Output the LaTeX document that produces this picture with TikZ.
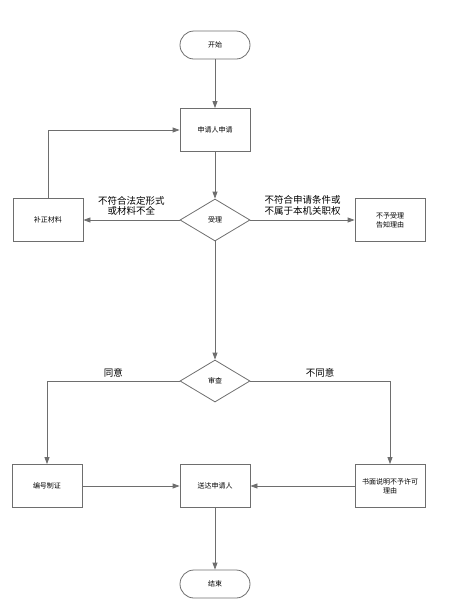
\documentclass[tikz,border=0pt]{standalone}
\usepackage{fontspec}
\newfontfamily\cjk{Noto Sans CJK SC}
\usepackage{tikz}
\usetikzlibrary{positioning,arrows.meta,calc,shapes.geometric}
\definecolor{linegray}{HTML}{6E6E6E}

\begin{document}
\begin{tikzpicture}[
    x=1pt, y=-1pt,
    box/.style={draw=linegray, thick, fill=white, minimum width=70pt, minimum height=43pt, align=center, inner sep=1pt, font=\cjk\fontsize{7}{9}\selectfont},
    term/.style={draw=linegray, thick, rounded corners=14pt, minimum width=70pt, minimum height=28pt, font=\cjk\fontsize{7}{9}\selectfont},
    decide/.style={draw=linegray, thick, diamond, aspect=1.67, minimum width=70pt, minimum height=42pt, inner sep=0pt, font=\cjk\fontsize{7}{9}\selectfont},
    lbl/.style={font=\cjk\fontsize{9.5}{10.5}\selectfont, align=center},
    arr/.style={-{Triangle[length=7pt,width=5pt]}, thick, draw=linegray}
  ]
    \useasboundingbox (0,0) rectangle (448,606);

    \node[term] (start) at (215,45) {开始};
    \node[box] (apply) at (215,130) {申请人申请};
    \node[decide] (accept) at (215,220) {受理};
    \node[box] (supp) at (48,220) {补正材料};
    \node[box] (reject) at (390,220) {不予受理\\告知理由};
    \node[decide] (review) at (215,381) {审查};
    \node[box] (cert) at (47,486) {编号制证};
    \node[box] (deliver) at (215,486) {送达申请人};
    \node[box] (deny) at (390,486) {书面说明不予许可\\理由};
    \node[term] (finish) at (215,584) {结束};

    \draw[arr] (start) -- (apply);
    \draw[arr] (apply) -- (accept);
    \draw[arr] (accept) -- node[lbl, above=1pt] {不符合法定形式\\或材料不全} (supp);
    \draw[arr] (accept) -- node[lbl, above=1pt] {不符合申请条件或\\不属于本机关职权} (reject);
    \draw[arr] (supp.north) |- (apply.west);
    \draw[arr] (accept) -- (review);
    \draw[arr] (review.west) -| node[lbl, pos=0.25, above] {同意} (cert.north);
    \draw[arr] (review.east) -| node[lbl, pos=0.25, above] {不同意} (deny.north);
    \draw[arr] (cert) -- (deliver);
    \draw[arr] (deny) -- (deliver);
    \draw[arr] (deliver) -- (finish);
  \end{tikzpicture}
\end{document}
